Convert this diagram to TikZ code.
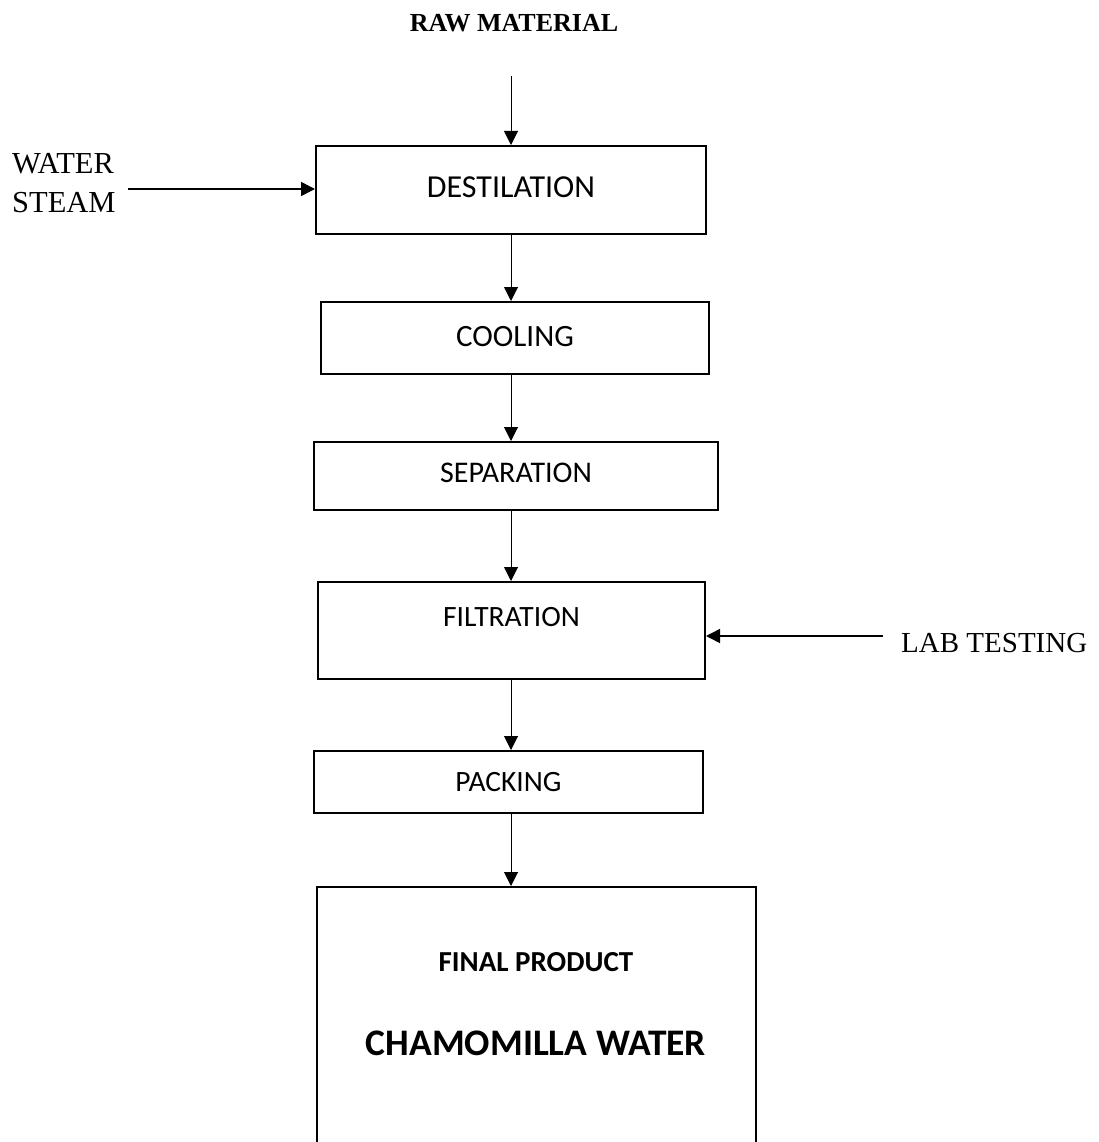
\documentclass[tikz,border=0pt]{standalone}
\usepackage{fontspec}
\setmainfont{Liberation Serif}
\newfontfamily\boxfont{Carlito}
\usetikzlibrary{arrows.meta}
\begin{document}
\begin{tikzpicture}[x=1pt,y=-1pt,
  stage/.style={draw,line width=2pt,inner sep=0pt,text height=19pt,text depth=0pt,
    font=\boxfont\fontsize{29.5}{34}\selectfont},
  flow/.style={-{Triangle[length=14pt,width=14pt]},line width=1pt},
  side/.style={inner sep=0pt,align=left,font=\fontsize{30.5}{39}\selectfont}]
	\useasboundingbox (0,0) rectangle (1099,1142);
	% stages
	\node[stage,minimum width=390pt,minimum height=88pt,text depth=3.5pt,font=\boxfont\fontsize{32}{36}\selectfont] (dest) at (511,190) {DESTILATION};
	\node[stage,minimum width=388pt,minimum height=72pt,text depth=3pt,font=\boxfont\fontsize{31}{36}\selectfont] (cool) at (515,338) {COOLING};
	\node[stage,minimum width=404pt,minimum height=68pt,text depth=7pt,font=\boxfont\fontsize{30}{34}\selectfont] (sep) at (516,476) {SEPARATION};
	\node[stage,minimum width=387pt,minimum height=97pt,text depth=28pt] (filt) at (511.5,630.5) {FILTRATION};
	\node[stage,minimum width=389pt,minimum height=62pt] (pack) at (508.5,782) {PACKING};
	\node[stage,anchor=north,minimum width=439pt,minimum height=270pt] (final) at (536.5,886) {};
	\node[font=\boxfont\bfseries\fontsize{29}{34}\selectfont] (fp) at (536,962) {FINAL PRODUCT};
	\node[font=\boxfont\bfseries\fontsize{37.5}{44}\selectfont] (cw) at (536,1043.5) {CHAMOMILLA WATER};
	% inputs
	\node[inner sep=0pt,font=\bfseries\fontsize{26}{30}\selectfont] (raw) at (514,23.5) {RAW MATERIAL};
	\node[side,anchor=west] (steam) at (12,183.5) {WATER\\STEAM};
	\node[side,anchor=west,font=\fontsize{29}{34}\selectfont] (lab) at (901,643.5) {LAB TESTING};
	\coordinate (rawin) at (511,76);
	\coordinate (win) at (128,189);
	\coordinate (lin) at (883,636);
	% arrows
	\draw[flow] (rawin) -- (dest.north);
	\draw[flow,line width=1.5pt] (win) -- (win -| dest.west);
	\draw[flow,line width=1.5pt] (lin) -- (lin -| filt.east);
	\foreach \a/\b in {dest/cool,cool/sep,sep/filt,filt/pack,pack/final}
	  \draw[flow] (dest.south |- \a.south) -- (dest.south |- \b.north);
\end{tikzpicture}
\end{document}
